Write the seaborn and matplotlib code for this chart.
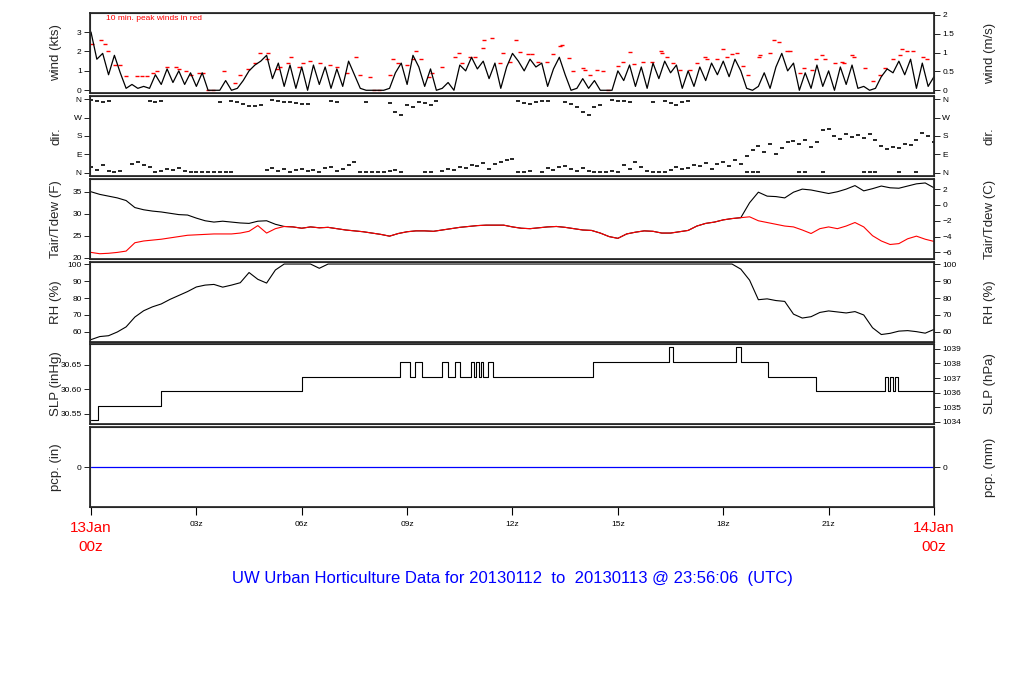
import numpy as np
import matplotlib
matplotlib.use("Agg")
import matplotlib.pyplot as plt
import seaborn as sns

# ---- values, hours after 13Jan 00z ----
# wind speed (kts), one value every 10 minutes
wind_kts = [3.0, 1.6, 1.9, 0.8, 1.8, 0.9,
            0.1, 0.3, 0.1, 0.2, 0.1, 0.8,
            0.3, 1.1, 0.4, 1.0, 0.3, 0.9,
            0.2, 0.9, 0.0, 0.0, 0.0, 0.5,
            0.0, 0.1, 0.5, 1.0, 1.3, 1.5,
            1.8, 0.6, 1.4, 0.2, 1.3, 0.1,
            1.2, 0.0, 1.3, 0.3, 1.2, 0.1,
            1.1, 0.2, 1.5, 0.8, 0.1, 0.0,
            0.0, 0.0, 0.0, 0.1, 0.9, 1.4,
            0.3, 1.8, 1.2, 0.2, 1.1, 0.0,
            0.1, 0.4, 0.0, 1.3, 1.0, 1.7,
            1.1, 1.5, 0.6, 1.4, 0.1, 1.2,
            1.9, 1.5, 1.0, 1.6, 1.2, 1.4,
            0.2, 1.1, 1.7, 0.8, 0.0, 0.1,
            0.6, 0.1, 0.5, 0.0, 0.0, 0.0,
            1.0, 0.5, 1.3, 0.2, 1.2, 0.1,
            1.4, 0.6, 1.5, 0.9, 1.3, 0.1,
            1.0, 0.2, 1.2, 0.5, 1.4, 0.8,
            1.5, 0.7, 1.6, 1.0, 0.1, 0.0,
            0.2, 0.9, 0.1, 1.2, 1.9, 1.0,
            1.4, 0.0, 0.9, 0.1, 1.3, 0.2,
            1.0, 0.0, 1.2, 0.3, 1.3, 0.1,
            0.2, 0.0, 0.1, 0.7, 1.1, 0.9,
            1.5, 0.8, 1.6, 0.1, 1.4, 0.2,
            0.7]

# 10 min. peak winds (kts)
peak_hours = [0.03, 0.28, 0.40, 0.48, 0.68, 0.83, 1.00, 1.31, 1.45, 1.59,
              1.77, 1.88, 2.16, 2.42, 2.51, 2.70, 2.85, 3.07, 3.19, 3.33,
              3.47, 3.79, 4.10, 4.24, 4.47, 4.67, 4.81, 5.01, 5.04, 5.30,
              5.38, 5.61, 5.69, 5.92, 6.04, 6.23, 6.52, 6.80, 7.00, 7.29,
              7.54, 7.66, 7.94, 8.06, 8.20, 8.51, 8.60, 8.74, 9.00, 9.17,
              9.25, 9.40, 9.62, 9.71, 9.99, 10.36, 10.48, 10.56, 10.79, 10.93,
              11.16, 11.19, 11.42, 11.64, 11.73, 11.93, 12.10, 12.21, 12.44, 12.56,
              12.73, 12.98, 13.15, 13.35, 13.41, 13.61, 13.72, 14.01, 14.06, 14.21,
              14.41, 14.58, 14.72, 15.00, 15.15, 15.35, 15.46, 15.72, 15.97, 16.23,
              16.26, 16.40, 16.57, 16.77, 17.05, 17.25, 17.48, 17.54, 17.82, 17.99,
              18.11, 18.25, 18.39, 18.56, 18.70, 19.02, 19.05, 19.33, 19.44, 19.59,
              19.82, 19.90, 20.19, 20.30, 20.53, 20.64, 20.81, 20.90, 21.18, 21.38,
              21.44, 21.67, 21.72, 22.04, 22.26, 22.46, 22.61, 22.83, 23.03, 23.09,
              23.23, 23.40, 23.69, 23.80]
peak_kts = [2.4, 2.6, 2.4, 2.0, 1.3, 1.3, 0.75, 0.75, 0.75, 0.75,
            0.9, 1.0, 1.2, 1.2, 1.1, 1.0, 0.8, 0.9, 0.9, 0.0,
            0.0, 1.0, 0.4, 0.8, 1.1, 1.4, 1.9, 1.6, 1.9, 1.1,
            1.2, 1.4, 1.7, 1.2, 1.4, 1.5, 1.4, 1.3, 1.2, 0.9,
            1.7, 0.8, 0.7, 0.0, 0.0, 0.8, 1.6, 1.4, 1.3, 1.6,
            2.0, 1.6, 0.7, 0.9, 1.2, 1.7, 1.9, 1.4, 1.7, 1.7,
            2.2, 2.6, 2.7, 1.4, 1.9, 1.45, 2.6, 1.95, 1.85, 1.85,
            1.45, 1.45, 1.85, 2.3, 2.35, 1.65, 1.0, 1.15, 1.05, 0.8,
            1.05, 1.0, 0.0, 1.25, 1.45, 1.95, 1.35, 1.45, 1.45, 2.0,
            1.9, 1.7, 1.4, 1.05, 1.05, 1.4, 1.7, 1.6, 1.6, 2.15,
            1.7, 1.85, 1.9, 1.25, 0.8, 1.7, 1.8, 1.9, 2.6, 2.5,
            2.0, 2.0, 0.9, 1.15, 1.05, 1.6, 1.8, 1.6, 1.4, 1.45,
            1.4, 1.8, 1.7, 1.15, 0.5, 0.8, 1.15, 1.6, 1.8, 2.15,
            2.0, 2.0, 1.7, 1.6]

nan = np.nan
# wind direction (deg), two readings every 10 minutes
dir_a = [30, 15, 40, 8, 5, 10,
         nan, 45, 55, 40, 30, 5,
         10, 20, 15, 25, 10, 5,
         5, 3, 2, 2, 2, 3,
         2, nan, nan, nan, nan, nan,
         15, 25, 10, 20, 5, 15,
         20, 10, 15, 5, 25, 30,
         10, 20, 40, 55, 3, 3,
         3, 3, 3, 10, 15, 5,
         nan, nan, nan, 5, 3, nan,
         10, 20, 15, 30, 25, 40,
         35, 50, 20, 45, 55, 60,
         65, 5, 3, 8, nan, 3,
         25, 15, 30, 35, 20, 10,
         25, 8, 5, 3, 5, 8,
         5, 40, 20, 55, 30, 10,
         3, 5, 3, 15, 30, 20,
         25, 40, 35, 50, 20, 45,
         55, 35, 60, 45, 80, 110,
         130, 100, 140, 90, 120, 150,
         155, 140, 160, 125, 150, 210,
         215, 180, 165, 190, 175, 185,
         170, 190, 160, 130, 115, 125,
         120, 140, 135, 160, 195, 180,
         150]
dir_b = [355, 350, 345, 352, nan, nan,
         nan, nan, nan, nan, 352, 348,
         350, nan, nan, nan, nan, nan,
         nan, nan, nan, nan, 345, nan,
         352, 345, 335, 328, 326, 330,
         nan, 355, 350, 345, 348, 340,
         335, 338, nan, nan, nan, 350,
         345, nan, nan, nan, nan, 345,
         nan, nan, nan, 340, 300, 285,
         330, 320, 345, 340, 330, 350,
         nan, nan, nan, nan, nan, nan,
         nan, nan, nan, nan, nan, nan,
         nan, 350, 340, 335, 345, 350,
         352, nan, nan, 345, 335, 320,
         300, 285, 320, 330, nan, 355,
         350, 352, 345, nan, nan, nan,
         348, nan, 352, 340, 330, 345,
         350, nan, nan, nan, nan, nan,
         nan, nan, nan, nan, 2, 2,
         2, nan, nan, nan, nan, nan,
         nan, 2, 2, nan, nan, 2,
         nan, nan, nan, nan, nan, nan,
         2, 2, 2, nan, nan, nan,
         2, nan, nan, 2, nan, nan,
         nan]

# air and dew point temperature (F), one value every 15 minutes
tair_f = [35.0, 34.4, 34.0, 33.6, 33.0, 31.4, 30.9, 30.6, 30.4, 30.1, 29.8, 29.7,
          29.0, 28.4, 28.1, 28.3, 28.1, 27.9, 27.8, 28.3, 28.4, 27.6, 27.1, 27.0,
          26.7, 27.0, 26.8, 26.9, 26.6, 26.3, 26.1, 25.9, 25.6, 25.3, 24.9, 25.5,
          25.9, 26.1, 26.1, 26.0, 26.3, 26.6, 26.9, 27.1, 27.3, 27.4, 27.4, 27.4,
          27.0, 26.7, 26.6, 26.8, 27.0, 27.1, 26.9, 26.6, 26.3, 26.2, 25.6, 24.8,
          24.4, 25.4, 25.8, 26.1, 26.0, 25.6, 25.6, 25.9, 26.2, 27.2, 27.8, 28.1,
          28.6, 28.9, 29.1, 32.5, 34.9, 34.0, 33.9, 33.6, 34.9, 35.6, 35.4, 35.0,
          34.6, 35.0, 35.6, 36.4, 35.2, 35.7, 36.3, 35.9, 35.8, 36.3, 36.8, 37.0,
          35.9]
tdew_f = [21.2, 20.9, 21.0, 21.2, 21.5, 23.4, 23.8, 24.0, 24.2, 24.5, 24.8, 25.1,
          25.2, 25.3, 25.4, 25.4, 25.4, 25.6, 26.0, 27.3, 25.6, 26.6, 27.1, 27.0,
          26.7, 27.0, 26.8, 26.9, 26.6, 26.3, 26.1, 25.9, 25.6, 25.3, 24.9, 25.5,
          25.9, 26.1, 26.1, 26.0, 26.3, 26.6, 26.9, 27.1, 27.3, 27.4, 27.4, 27.4,
          27.0, 26.7, 26.6, 26.8, 27.0, 27.1, 26.9, 26.6, 26.3, 26.2, 25.6, 24.8,
          24.4, 25.4, 25.8, 26.1, 26.0, 25.6, 25.6, 25.9, 26.2, 27.2, 27.8, 28.1,
          28.6, 28.9, 29.1, 29.3, 28.4, 28.0, 27.6, 27.2, 27.0, 26.3, 25.5, 26.6,
          27.0, 26.6, 27.2, 28.0, 27.0, 25.0, 23.8, 23.0, 23.2, 24.3, 24.9, 24.2,
          23.7]

# relative humidity (%), one value every 15 minutes
rh_pct = [55.5, 57.3, 57.8, 60.0, 63.0, 68.8, 72.5, 74.8, 76.5, 79.2, 81.5, 83.8,
          86.5, 87.6, 88.0, 86.4, 87.6, 89.0, 95.0, 91.0, 88.8, 96.5, 100.0, 100.0,
          100.0, 100.0, 97.5, 100.0, 100.0, 100.0, 100.0, 100.0, 100.0, 100.0, 100.0, 100.0,
          100.0, 100.0, 100.0, 100.0, 100.0, 100.0, 100.0, 100.0, 100.0, 100.0, 100.0, 100.0,
          100.0, 100.0, 100.0, 100.0, 100.0, 100.0, 100.0, 100.0, 100.0, 100.0, 100.0, 100.0,
          100.0, 100.0, 100.0, 100.0, 100.0, 100.0, 100.0, 100.0, 100.0, 100.0, 100.0, 100.0,
          100.0, 100.0, 97.0, 90.5, 79.0, 79.5, 78.5, 78.0, 70.5, 68.2, 69.0, 71.5,
          72.4, 71.8, 71.2, 72.0, 70.0, 62.5, 58.5, 59.2, 60.5, 60.8, 60.2, 59.3,
          61.5]

# sea level pressure (hPa), value held from each listed hour on
slp_hours = [0.00, 0.20, 1.99, 6.01, 8.80, 9.08, 9.22, 9.42, 9.99, 10.16,
             10.36, 10.51, 10.82, 10.90, 10.96, 11.05, 11.10, 11.16, 11.30, 11.44,
             14.29, 16.46, 16.57, 18.36, 18.51, 19.27, 20.64, 22.60, 22.69, 22.75,
             22.83, 22.89, 22.98, 24.00]
slp_hpa = [1034.1, 1035.1, 1036.1, 1037.1, 1038.1, 1037.1, 1038.1, 1037.1, 1038.1, 1037.1,
           1038.1, 1037.1, 1038.1, 1037.1, 1038.1, 1037.1, 1038.1, 1037.1, 1038.1, 1037.1,
           1038.1, 1039.1, 1038.1, 1039.1, 1038.1, 1037.1, 1036.1, 1037.1, 1036.1, 1037.1,
           1036.1, 1037.1, 1036.1, 1036.1]

# precipitation (in)
pcp_hours = [0.0, 24.0]
pcp_in = [0.0, 0.0]

hour_ticks = [0, 3, 6, 9, 12, 15, 18, 21, 24]
hour_labels = ["13Jan\n00z", "03z", "06z", "09z", "12z", "15z", "18z", "21z", "14Jan\n00z"]

t10 = np.arange(len(wind_kts)) / 6.0
t15 = np.arange(len(tair_f)) / 4.0

# ---- figure ----
sns.set_theme(style="ticks")
plt.rcParams["font.family"] = ["Liberation Sans", "DejaVu Sans"]

W, H = 1024, 700
fig = plt.figure(figsize=(W / 100, H / 100), dpi=100)
fig.patch.set_facecolor("white")
XLIM = (-0.028, 24.0)
KT2MS = 0.514444
INHG = 33.8639


def panel(top):
    ax = fig.add_axes([90 / W, 1 - (top + 80) / H, 844 / W, 80 / H])
    ax.set_facecolor("white")
    return ax


def frame(ax, left_label, right_label, right_ax):
    ax.set_xlim(XLIM)
    for s in ax.spines.values():
        s.set_visible(True)
        s.set_color("#333333")
        s.set_linewidth(0.8)
    for a in (ax, right_ax):
        a.tick_params(axis="y", direction="out", length=4, width=0.6,
                      labelsize=6, pad=2, colors="black")
    ax.set_xticks([])
    ax.set_xlabel("")
    ax.set_ylabel(left_label, fontsize=9.5)
    ax.yaxis.set_label_coords(-0.033, 0.5)
    right_ax.set_ylabel(right_label, fontsize=9.5)
    right_ax.yaxis.set_label_coords(1.059, 0.5)


def line(ax, x, y, color, lw=0.8, **kw):
    sns.lineplot(x=x, y=y, ax=ax, color=color, linewidth=lw,
                 estimator=None, sort=False, **kw)


# wind
ax = panel(13)
line(ax, t10, wind_kts, "black", lw=0.9)
sns.scatterplot(x=peak_hours, y=peak_kts, ax=ax, marker="_", s=5,
                color="red", linewidth=1)
ax.set_ylim(-0.14, 3.98)
ax.set_yticks([0, 1, 2, 3])
ax.text(0.019, 0.925, "10 min. peak winds in red", transform=ax.transAxes,
        color="red", fontsize=6, va="center")
ax2 = ax.twinx()
ax2.set_ylim(-0.14 * KT2MS, 3.98 * KT2MS)
ax2.set_yticks([0, 0.5, 1, 1.5, 2])
ax2.set_yticklabels(["0", "0.5", "1", "1.5", "2"])
frame(ax, "wind (kts)", "wind (m/s)", ax2)

# direction
ax = panel(96)
sns.scatterplot(x=t10, y=dir_a, ax=ax, marker="_", s=6, color="black", linewidth=1.2)
sns.scatterplot(x=t10, y=dir_b, ax=ax, marker="_", s=6, color="black", linewidth=1.2)
ax.set_ylim(-16, 376)
ax.set_yticks([0, 90, 180, 270, 360])
ax.set_yticklabels(["N", "E", "S", "W", "N"])
ax2 = ax.twinx()
ax2.set_ylim(-16, 376)
ax2.set_yticks([0, 90, 180, 270, 360])
ax2.set_yticklabels(["N", "E", "S", "W", "N"])
frame(ax, "dir.", "dir.", ax2)

# temperature
ax = panel(179)
line(ax, t15, tair_f, "black", lw=0.8)
line(ax, t15, tdew_f, "red", lw=0.8)
ax.set_ylim(19.7, 37.9)
ax.set_yticks([20, 25, 30, 35])
ax2 = ax.twinx()
ax2.set_ylim((19.7 - 32) * 5 / 9, (37.9 - 32) * 5 / 9)
ax2.set_yticks([-6, -4, -2, 0, 2])
frame(ax, "Tair/Tdew (F)", "Tair/Tdew (C)", ax2)

# relative humidity
ax = panel(262)
line(ax, t15, rh_pct, "black", lw=0.8)
ax.set_ylim(54.1, 101.2)
ax.set_yticks([60, 70, 80, 90, 100])
ax2 = ax.twinx()
ax2.set_ylim(54.1, 101.2)
ax2.set_yticks([60, 70, 80, 90, 100])
frame(ax, "RH (%)", "RH (%)", ax2)

# sea level pressure
ax = panel(344)
line(ax, slp_hours, slp_hpa, "black", lw=0.8, drawstyle="steps-post")
ax.set_ylim(1033.84, 1039.34)
ax.set_yticks([30.55 * INHG, 30.60 * INHG, 30.65 * INHG])
ax.set_yticklabels(["30.55", "30.60", "30.65"])
ax2 = ax.twinx()
ax2.set_ylim(1033.84, 1039.34)
ax2.set_yticks([1034, 1035, 1036, 1037, 1038, 1039])
frame(ax, "SLP (inHg)", "SLP (hPa)", ax2)

# precipitation
ax = panel(427)
line(ax, pcp_hours, pcp_in, "blue", lw=0.9)
ax.set_ylim(-1, 1)
ax.set_yticks([0])
ax2 = ax.twinx()
ax2.set_ylim(-25.4, 25.4)
ax2.set_yticks([0])
frame(ax, "pcp. (in)", "pcp. (mm)", ax2)

ax.set_xticks(hour_ticks)
ax.set_xticklabels(hour_labels)
ax.tick_params(axis="x", direction="out", length=6, width=0.8, labelsize=6,
               pad=4, colors="black")
for i, lab in enumerate(ax.get_xticklabels()):
    if i in (0, len(hour_ticks) - 1):
        lab.set_color("red")
        lab.set_fontsize(11)
        lab.set_linespacing(1.5)

fig.text(0.5, 1 - 578 / H,
         "UW Urban Horticulture Data for 20130112  to  20130113 @ 23:56:06  (UTC)",
         color="blue", fontsize=12, ha="center", va="center")

fig.savefig("out.png", dpi=100, facecolor="white")
